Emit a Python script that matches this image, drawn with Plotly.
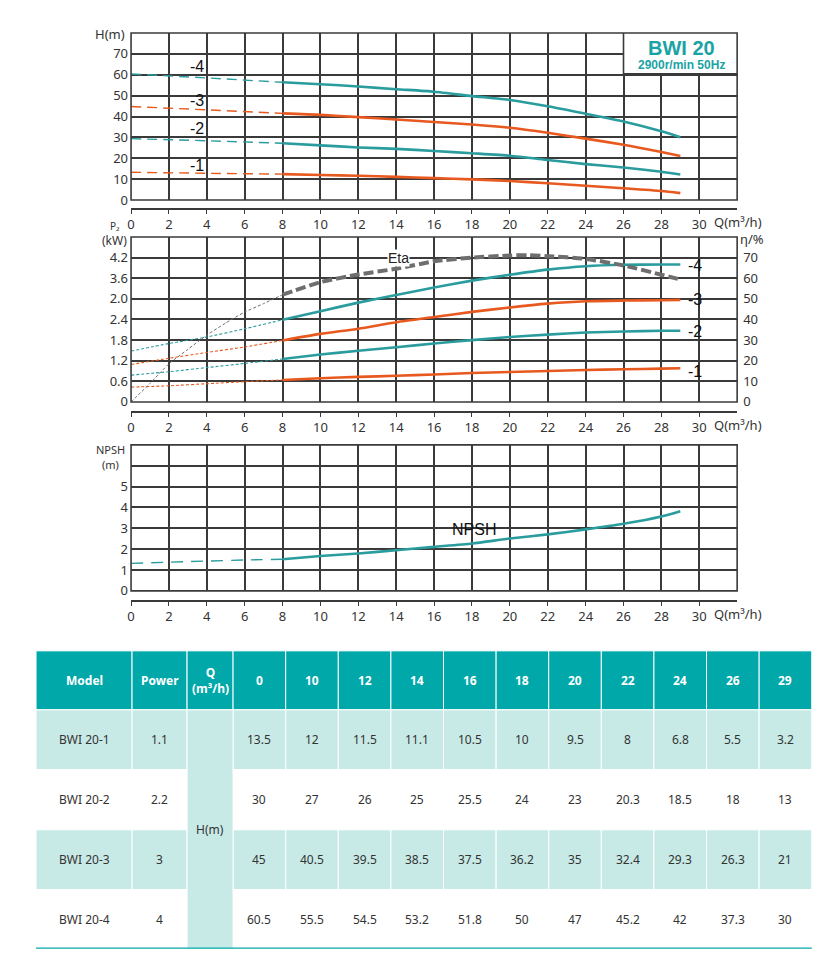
import plotly.graph_objects as go

# ---------------- data ----------------
# Chart 1: head curves H(m) vs Q(m3/h)
h_q = [0, 4, 8, 10, 12, 14, 16, 18, 20, 22, 24, 26, 28, 29]
h_1 = [13.3, 12.8, 12.4, 12.0, 11.6, 11.1, 10.5, 9.9, 9.1, 8.0, 6.8, 5.6, 4.3, 3.3]
h_2 = [29.4, 28.4, 27.2, 26.2, 25.2, 24.5, 23.5, 22.4, 21.2, 19.2, 17.2, 15.6, 13.5, 12.2]
h_3 = [44.8, 43.2, 41.5, 40.8, 39.7, 38.6, 37.4, 36.2, 34.6, 32.2, 29.4, 26.5, 23.0, 21.1]
h_4 = [60.4, 58.5, 56.4, 55.5, 54.4, 53.1, 51.9, 49.8, 47.9, 44.9, 41.3, 37.6, 32.9, 30.1]

# Chart 2: power P2 (kW) and efficiency
p_q = [0, 2, 4, 6, 8, 10, 12, 14, 16, 18, 20, 22, 24, 26, 28, 29]
p_1 = [0.43, 0.47, 0.53, 0.59, 0.64, 0.69, 0.73, 0.76, 0.80, 0.84, 0.87, 0.90, 0.93, 0.95, 0.97, 0.98]
p_2 = [0.78, 0.88, 1.00, 1.12, 1.25, 1.38, 1.49, 1.59, 1.70, 1.80, 1.89, 1.96, 2.02, 2.05, 2.07, 2.07]
p_3 = [1.09, 1.27, 1.44, 1.60, 1.79, 1.98, 2.13, 2.32, 2.47, 2.62, 2.75, 2.86, 2.93, 2.95, 2.96, 2.97]
p_4 = [1.48, 1.70, 1.89, 2.13, 2.39, 2.64, 2.89, 3.11, 3.33, 3.53, 3.70, 3.85, 3.95, 3.99, 4.00, 4.00]
eta_q = [0, 1, 2, 3, 4, 5, 6, 7, 8, 10, 12, 14, 16, 18, 20, 21, 22, 24, 26, 28, 29]
eta_v = [0, 9, 18.5, 25.5, 32.4, 38.3, 43.6, 47.7, 52, 58.1, 61.8, 64.6, 68.2, 70, 71, 71.2, 70.7, 69.4, 66.2, 61.7, 59.4]

# Chart 3: NPSH
n_q = [0, 4, 6, 8, 10, 12, 14, 16, 18, 20, 22, 24, 26, 28, 29]
n_v = [1.32, 1.43, 1.48, 1.52, 1.67, 1.79, 1.95, 2.11, 2.27, 2.51, 2.71, 2.95, 3.22, 3.57, 3.82]

# Axis ticks
q_ticks = list(range(0, 31, 2))
h_ticks = list(range(0, 71, 10))
p_ticks = [0, 0.6, 1.2, 1.8, 2.4, 3.0, 3.6, 4.2]
p_ticktext = ["0", "0.6", "1.2", "1.8", "2.4", "2.0", "3.6", "4.2"]
eta_ticks = list(range(0, 71, 10))
n_ticks = [0, 1, 2, 3, 4, 5]
n_extra_grid = [6]

# Table
tbl_q = ["0", "10", "12", "14", "16", "18", "20", "22", "24", "26", "29"]
tbl_models = ["BWI 20-1", "BWI 20-2", "BWI 20-3", "BWI 20-4"]
tbl_power = ["1.1", "2.2", "3", "4"]
tbl_h1 = ["13.5", "12", "11.5", "11.1", "10.5", "10", "9.5", "8", "6.8", "5.5", "3.2"]
tbl_h2 = ["30", "27", "26", "25", "25.5", "24", "23", "20.3", "18.5", "18", "13"]
tbl_h3 = ["45", "40.5", "39.5", "38.5", "37.5", "36.2", "35", "32.4", "29.3", "26.3", "21"]
tbl_h4 = ["60.5", "55.5", "54.5", "53.2", "51.8", "50", "47", "45.2", "42", "37.3", "30"]

# ---------------- style / layout ----------------
# page body keeps its default 8px margin: figure is sized so page = 840x980
OFF = 8
W, H = 840 - 2 * OFF, 980 - 2 * OFF
# small correction measured between requested and photographed positions
AX, SX, SY = 4.0, 0.995, 0.991
def fx(t):
    p = (t - AX) / SX
    return (p - OFF) / W
def fy(t):
    p = t / SY
    return 1 - (p - OFF) / H

TEAL = "#2a9c9e"
ORANGE = "#e8591f"
GRID = "#3a3a3a"
TXT = "#333333"
HEAD = "#00a8aa"
LIGHT = "#c8eae6"
TICKFONT = dict(family="Noto Sans, Open Sans, sans-serif", size=13, color=TXT)
LBLFONT = dict(family="Liberation Sans, Arial, sans-serif", size=16, color="#111111")
SPLIT = 8

fig = go.Figure()

def add_curve(q, v, color, xa, ya, dash_ext, w_ext, w_main, dash_main="solid"):
    qi = [a for a in q if a <= SPLIT]
    vi = v[:len(qi)]
    qo = [a for a in q if a >= SPLIT]
    vo = v[len(q) - len(qo):]
    fig.add_trace(go.Scatter(x=qi, y=vi, mode="lines", xaxis=xa, yaxis=ya,
                             line=dict(color=color, width=w_ext, dash=dash_ext, shape="spline", smoothing=0.6),
                             showlegend=False, hoverinfo="skip"))
    fig.add_trace(go.Scatter(x=qo, y=vo, mode="lines", xaxis=xa, yaxis=ya,
                             line=dict(color=color, width=w_main, dash=dash_main, shape="spline", smoothing=0.6),
                             showlegend=False, hoverinfo="skip"))

# chart 1
for v, c in [(h_1, ORANGE), (h_2, TEAL), (h_3, ORANGE), (h_4, TEAL)]:
    add_curve(h_q, v, c, "x", "y", "10px,6px", 1.4, 2.6)
# chart 2
for v, c in [(p_1, ORANGE), (p_2, TEAL), (p_3, ORANGE), (p_4, TEAL)]:
    add_curve(p_q, v, c, "x2", "y2", "3px,2px", 1.1, 2.6)
add_curve(eta_q, eta_v, "#6e6e6e", "x2", "y3", "3px,2px", 1.0, 4.0, dash_main="10px,4px")
# chart 3
add_curve(n_q, n_v, TEAL, "x3", "y4", "12px,8px", 1.4, 2.6)

def xaxis_cfg(pos_px):
    return dict(domain=[fx(131), fx(737)], range=[0, 32], anchor="free", position=fy(pos_px),
                tickmode="array", tickvals=q_ticks, showgrid=True, gridcolor=GRID, gridwidth=1.5,
                showline=True, linecolor=GRID, linewidth=1.5, ticks="outside", ticklen=4,
                tickcolor=GRID, tickwidth=1.2, tickfont=TICKFONT, zeroline=False, fixedrange=True)

def yaxis_cfg(top_px, bot_px, rng, tv, tt=None):
    d = dict(domain=[fy(bot_px), fy(top_px)], range=rng, anchor="free", position=fx(131),
             tickmode="array", tickvals=tv, showgrid=True, gridcolor=GRID, gridwidth=1.5,
             showline=False, ticks="", tickfont=TICKFONT, zeroline=False, ticklabelstandoff=3,
             fixedrange=True)
    if tt is not None:
        d["ticktext"] = tt
    return d

yax4 = yaxis_cfg(445, 591, [0, 7], n_ticks)
yax4["minor"] = dict(tickmode="array", tickvals=n_extra_grid, showgrid=True, gridcolor=GRID,
                     gridwidth=1.5, ticks="")

layout = dict(
    width=W, height=H, margin=dict(l=0, r=0, t=0, b=0),
    paper_bgcolor="white", plot_bgcolor="white", showlegend=False,
    xaxis=xaxis_cfg(209),
    yaxis=yaxis_cfg(33, 200, [0, 80], h_ticks),
    xaxis2=xaxis_cfg(412),
    yaxis2=yaxis_cfg(237, 402, [0, 4.8], p_ticks, p_ticktext),
    yaxis3=dict(domain=[fy(402), fy(237)], range=[0, 80], overlaying="y2", side="right",
                anchor="free", position=fx(737), tickmode="array", tickvals=eta_ticks,
                showgrid=False, showline=False, ticks="", tickfont=TICKFONT, zeroline=False,
                ticklabelstandoff=5, fixedrange=True),
    xaxis3=xaxis_cfg(601),
    yaxis4=yax4,
    xaxis4=dict(domain=[fx(36), fx(812)], range=[0, 776], visible=False, anchor="y5", fixedrange=True),
    yaxis5=dict(domain=[fy(949), fy(651)], range=[298, 0], visible=False, anchor="x4", fixedrange=True),
)
fig.update_layout(**layout)

shapes = []
annotations = []

# chart boxes
for xr, yr in [("x", "y"), ("x2", "y2"), ("x3", "y4")]:
    shapes.append(dict(type="rect", xref=xr + " domain", yref=yr + " domain", x0=0, x1=1, y0=0, y1=1,
                       line=dict(color=GRID, width=1.6), fillcolor="rgba(0,0,0,0)", layer="above"))

# title box
shapes.append(dict(type="rect", xref="x", yref="y", x0=26, x1=32, y0=60.5, y1=80,
                   line=dict(color=GRID, width=1.6), fillcolor="white", layer="above"))
annotations.append(dict(x=29.05, y=73, xref="x", yref="y", text="<b>BWI 20</b>", showarrow=False,
                        font=dict(family="Liberation Sans, Arial, sans-serif", size=20, color="#1aa3a5")))
annotations.append(dict(x=29.05, y=64.8, xref="x", yref="y", text="<b>2900r/min 50Hz</b>", showarrow=False,
                        font=dict(family="Liberation Sans, Arial, sans-serif", size=12, color="#1aa3a5")))

# curve labels chart 1
for t, yv in [("-4", 64), ("-3", 47.6), ("-2", 34.2), ("-1", 16.7)]:
    annotations.append(dict(x=3.5, y=yv, xref="x", yref="y", text=t, showarrow=False, font=LBLFONT))
# curve labels chart 2
for t, yv in [("-4", 3.97), ("-3", 2.97), ("-2", 2.06), ("-1", 0.90)]:
    annotations.append(dict(x=29.3, y=yv, xref="x2", yref="y2", text=t, showarrow=False,
                            xanchor="left", font=LBLFONT))
annotations.append(dict(x=14.1, y=70, xref="x2", yref="y3", text="Eta", showarrow=False,
                        bgcolor="white", borderpad=0,
                        font=dict(family="Liberation Sans, Arial, sans-serif", size=14, color="#222")))
annotations.append(dict(x=18.1, y=2.95, xref="x3", yref="y4", text="NPSH", showarrow=False, font=LBLFONT))

# axis titles (paper)
def ptxt(x, y, t, anchor="center", size=13):
    annotations.append(dict(x=fx(x), y=fy(y), xref="paper", yref="paper", text=t, showarrow=False,
                            xanchor=anchor, yanchor="middle",
                            font=dict(family=TICKFONT["family"], size=size, color=TXT)))

ptxt(110, 34, "H(m)")
ptxt(115, 226, "P₂", size=10)
ptxt(114, 241, "(kW)", size=12)
ptxt(752, 239, "η/%")
ptxt(110, 450, "NPSH", size=11)
ptxt(110, 465, "(m)", size=11)
for yy in [222, 425, 614]:
    ptxt(738, yy, "Q(m³/h)")

# ---------------- table ----------------
col_w = [96, 55, 46] + [52.6] * 11
row_h = [59, 60, 60, 60, 59]
xe = [0]
for w in col_w:
    xe.append(xe[-1] + w)
ye = [0]
for h in row_h:
    ye.append(ye[-1] + h)

header = ["Model", "Power", "Q<br>(m³/h)"] + tbl_q
body_vals = [tbl_h1, tbl_h2, tbl_h3, tbl_h4]
HFONT = dict(family="Noto Sans, Open Sans, sans-serif", size=12, color="white")
BFONT = dict(family="Noto Sans, Open Sans, sans-serif", size=12, color=TXT)

for j, t in enumerate(header):
    shapes.append(dict(type="rect", xref="x4", yref="y5", x0=xe[j], x1=xe[j + 1], y0=ye[0], y1=ye[1],
                       fillcolor=HEAD, line=dict(color="white", width=1), layer="below"))
    annotations.append(dict(x=(xe[j] + xe[j + 1]) / 2, y=(ye[0] + ye[1]) / 2, xref="x4", yref="y5",
                            text="<b>" + t + "</b>", showarrow=False, font=HFONT))

for i in range(4):
    fill = LIGHT if i % 2 == 0 else "white"
    row = [tbl_models[i], tbl_power[i], None] + body_vals[i]
    for j, t in enumerate(row):
        if j == 2:
            continue
        shapes.append(dict(type="rect", xref="x4", yref="y5", x0=xe[j], x1=xe[j + 1],
                           y0=ye[i + 1], y1=ye[i + 2], fillcolor=fill,
                           line=dict(color="white", width=1), layer="below"))
        annotations.append(dict(x=(xe[j] + xe[j + 1]) / 2, y=(ye[i + 1] + ye[i + 2]) / 2,
                                xref="x4", yref="y5", text=t, showarrow=False, font=BFONT))

# merged H(m) cell
shapes.append(dict(type="rect", xref="x4", yref="y5", x0=xe[2], x1=xe[3], y0=ye[1], y1=ye[5],
                   fillcolor=LIGHT, line=dict(color="white", width=1), layer="below"))
annotations.append(dict(x=(xe[2] + xe[3]) / 2, y=(ye[1] + ye[5]) / 2, xref="x4", yref="y5",
                        text="H(m)", showarrow=False, font=BFONT))
# bottom rule
shapes.append(dict(type="line", xref="x4", yref="y5", x0=xe[0], x1=xe[-1], y0=ye[-1], y1=ye[-1],
                   line=dict(color=HEAD, width=2.5), layer="above"))

# invisible trace so table axes exist
fig.add_trace(go.Scatter(x=[0, 776], y=[0, 298], xaxis="x4", yaxis="y5", mode="markers",
                         marker=dict(opacity=0), showlegend=False, hoverinfo="skip"))

fig.update_layout(shapes=shapes, annotations=annotations)
fig.write_html("out.html", config={"displayModeBar": False})
